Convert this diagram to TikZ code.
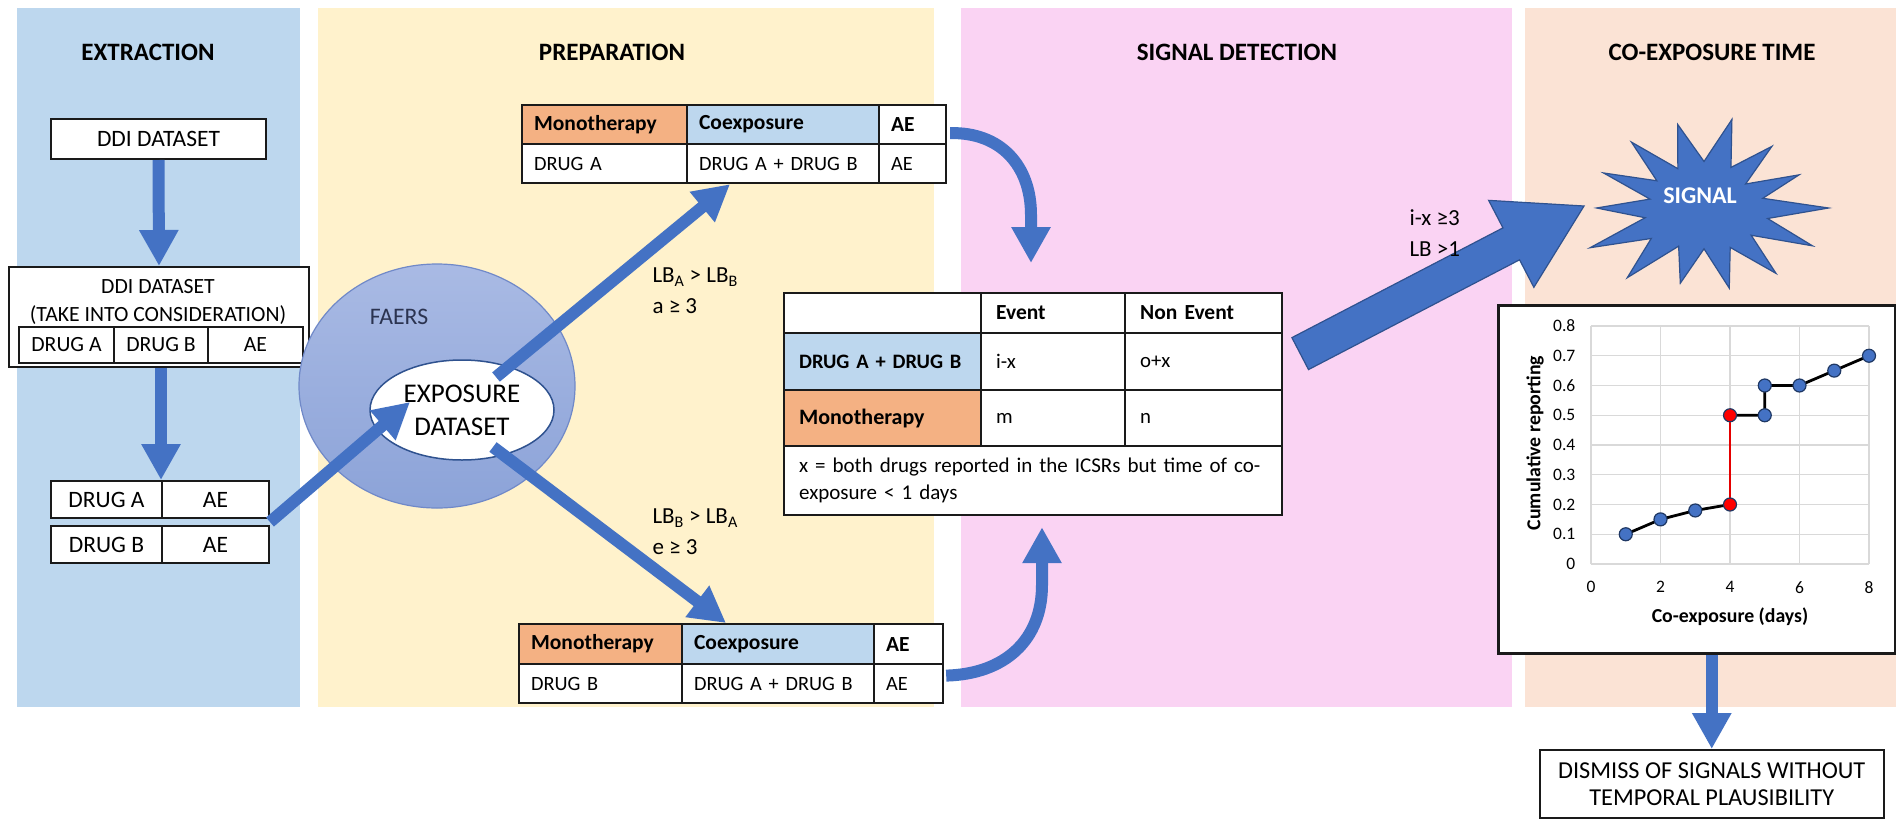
\documentclass[tikz,border=0pt]{standalone}
\usepackage{fontspec}
\setmainfont{Carlito}
\usetikzlibrary{arrows.meta,calc,shapes.geometric}
\definecolor{pblue}{HTML}{BDD7EE}
\definecolor{pyellow}{HTML}{FFF2CC}
\definecolor{ppink}{HTML}{FAD3F3}
\definecolor{ppeach}{HTML}{FBE3D5}
\definecolor{corange}{HTML}{F4B183}
\definecolor{cblue}{HTML}{BDD7EE}
\definecolor{ablue}{HTML}{4472C4}
\definecolor{aline}{HTML}{2F528F}
\definecolor{ftop}{HTML}{A9BAE4}
\definecolor{fbot}{HTML}{8CA3D8}
\definecolor{fedge}{HTML}{7089C8}
\definecolor{ftext}{HTML}{2B3350}
\definecolor{gridc}{HTML}{D9D9D9}
\definecolor{tline}{HTML}{1A1A1A}
\definecolor{mkedge}{HTML}{1F3864}
\newcommand\fsz[2]{\fontsize{#1}{#2}\selectfont}
\begin{document}
\begin{tikzpicture}[x=1pt,y=-1pt,
  ttl/.style={font=\fsz{25}{30}\bfseries},
  box/.style={draw=tline, line width=2pt, fill=white, inner sep=0, anchor=north west},
  cellL/.style={draw=tline, line width=2.2pt, inner ysep=0, inner xsep=12pt, anchor=north west, align=left, font=\fsz{20.3}{26}},
  cellC/.style={draw=tline, line width=2pt, inner sep=0, anchor=north west, align=center, font=\fsz{21.7}{26}},
  midL/.style={draw=tline, line width=2.2pt, inner ysep=0, inner xsep=15pt, anchor=north west, align=left, font=\fsz{20.8}{27}},
  hdB/.style={font=\fsz{21.5}{26}\bfseries},
  blk/.style={draw=ablue, line width=12pt, -{Triangle[length=36pt,width=37pt]}},
  lbl/.style={anchor=west, align=left, font=\fsz{23}{31}},
  gridline/.style={draw=gridc, line width=1.2pt},
  tick/.style={font=\fsz{17.5}{20}},
  dataline/.style={line width=2.8pt},
  mk/.style={draw=mkedge, line width=1.2pt, fill=ablue},
  mkr/.style={draw=mkedge, line width=1.2pt, fill=red}
]
\useasboundingbox[fill=white] (0,0) rectangle (1896,820);
% panels
\fill[pblue] (17,8) rectangle (300,707);
\fill[pyellow] (318,8) rectangle (934,707);
\fill[ppink] (961,8) rectangle (1512,707);
\fill[ppeach] (1525,8) rectangle (1896,707);
% titles
\node[ttl] (t1) at (148,52) {EXTRACTION};
\node[ttl] (t2) at (612,52) {PREPARATION};
\node[ttl] (t3) at (1237,52) {SIGNAL DETECTION};
\node[ttl] (t4) at (1712,52) {CO-EXPOSURE TIME};

% ---------- extraction ----------
\node[box, minimum width=215pt, minimum height=40pt, font=\fsz{23.5}{28}] (ddi) at (50,118) {DDI DATASET};
\node[box, minimum width=300pt, minimum height=100pt] (take) at (8,266) {};
\node[align=center, font=\fsz{21.7}{28}] (taket) at (158,302) {DDI DATASET\\(TAKE INTO CONSIDERATION)};
\node[cellC, minimum width=95pt, minimum height=36pt] (kA) at (18,326) {DRUG A};
\node[cellC, minimum width=94pt, minimum height=36pt] (kB) at (113,326) {DRUG B};
\node[cellC, minimum width=95pt, minimum height=36pt] (kE) at (207,326) {AE};
\node[cellC, fill=white, minimum width=111pt, minimum height=37pt, font=\fsz{23.5}{28}] (dA) at (50,480) {DRUG A};
\node[cellC, fill=white, minimum width=107pt, minimum height=37pt, font=\fsz{23.5}{28}] (dAE) at (161,480) {AE};
\node[cellC, fill=white, minimum width=111pt, minimum height=37pt, font=\fsz{23.5}{28}] (dB) at (50,525) {DRUG B};
\node[cellC, fill=white, minimum width=107pt, minimum height=37pt, font=\fsz{23.5}{28}] (dBE) at (161,525) {AE};
\draw[blk] (ddi.south) -- (take.north);
\draw[blk] (take.south -| dAE.north west) -- (dAE.north west);

% ---------- preparation ----------
\node[ellipse, minimum width=276pt, minimum height=244pt, top color=ftop, bottom color=fbot, draw=fedge, line width=1.2pt] (faers) at (437,386) {};
\node[font=\fsz{23.7}{28}, text=ftext] (faerst) at (399,317) {FAERS};
\node[ellipse, draw=aline, line width=1.5pt, fill=white, minimum width=184pt, minimum height=100pt, inner sep=0, align=center, font=\fsz{27}{33}] (exp) at (462,410) {EXPOSURE\\DATASET};
\draw[blk] ($(dAE.south east)!0.5!(dBE.north east)$) -- ($(exp.center)+(-52,-8)$);

% top table
\node[cellL, fill=corange, text width=141pt, minimum height=39pt, hdB] (tM) at (521,104) {Monotherapy};
\node[cellL, fill=cblue, text width=168pt, minimum height=39pt, hdB] (tC) at (686,104) {Coexposure};
\node[cellL, fill=white, text width=43pt, minimum height=39pt, hdB] (tE) at (878,104) {AE};
\node[cellL, fill=white, text width=141pt, minimum height=39pt] (tA) at (521,143) {DRUG A};
\node[cellL, fill=white, text width=168pt, minimum height=39pt] (tAB) at (686,143) {\mbox{DRUG A + DRUG B}};
\node[cellL, fill=white, text width=43pt, minimum height=39pt] (tE2) at (878,143) {AE};
% bottom table
\node[cellL, fill=corange, text width=139pt, minimum height=40pt, hdB] (bM) at (518,623) {Monotherapy};
\node[cellL, fill=cblue, text width=168pt, minimum height=40pt, hdB] (bC) at (681,623) {Coexposure};
\node[cellL, fill=white, text width=45pt, minimum height=40pt, hdB] (bE) at (873,623) {AE};
\node[cellL, fill=white, text width=139pt, minimum height=39pt] (bB) at (518,663) {DRUG B};
\node[cellL, fill=white, text width=168pt, minimum height=39pt] (bAB) at (681,663) {\mbox{DRUG A + DRUG B}};
\node[cellL, fill=white, text width=45pt, minimum height=39pt] (bE2) at (873,663) {AE};

\draw[blk] ($(exp.center)+(34,-33)$) -- ($(tAB.south west)+(44,0)$);
\draw[blk] ($(exp.center)+(31,37)$) -- ($(bC.north west)+(45,0)$);
\node[lbl] (l1) at (649,291) {LB\textsubscript{A} > LB\textsubscript{B}\\a ≥ 3};
\node[lbl] (l2) at (649,532) {LB\textsubscript{B} > LB\textsubscript{A}\\e ≥ 3};

% ---------- signal detection ----------
\node[midL, fill=white, text width=167pt, minimum height=40pt] (m00) at (783,292) {};
\node[midL, fill=white, text width=114pt, minimum height=40pt, font=\fsz{21.5}{27}\bfseries] (m01) at (980,292) {Event};
\node[midL, fill=white, text width=127pt, minimum height=40pt, font=\fsz{21.5}{27}\bfseries] (m02) at (1124,292) {Non Event};
\node[midL, fill=cblue, text width=167pt, minimum height=57pt, font=\fsz{20.5}{27}\bfseries] (m10) at (783,332) {\mbox{DRUG A + DRUG B}};
\node[midL, fill=white, text width=114pt, minimum height=57pt] (m11) at (980,332) {i-x};
\node[midL, fill=white, text width=127pt, minimum height=57pt] (m12) at (1124,332) {o+x};
\node[midL, fill=corange, text width=167pt, minimum height=56pt, font=\fsz{22}{27}\bfseries] (m20) at (783,389) {Monotherapy};
\node[midL, fill=white, text width=114pt, minimum height=56pt] (m21) at (980,389) {m};
\node[midL, fill=white, text width=127pt, minimum height=56pt] (m22) at (1124,389) {n};
\node[midL, fill=white, text width=468pt, minimum height=69pt, font=\fsz{21}{27}] (m3) at (783,445) {\mbox{x = both drugs reported in the ICSRs but time of co-}\\exposure < 1 days};

\draw[blk] ($(tE.east)+(3,8.5)$) .. controls (1000,132) and (1031,165) .. (1031,215) -- ($(m01.north west)+(51,-29)$);
\draw[blk] ($(bE2.east)+(2,-8)$) .. controls (1005,674) and (1042,640) .. (1042,585) -- ($(m3.south west)+(259,11)$);

% big arrow
\coordinate (bigT) at ($(m12.east)+(17,-8)$);
\coordinate (bigP) at (1584,206);
\coordinate (bigH) at ($(bigP)!82pt!(bigT)$);
\filldraw[fill=ablue, draw=aline, line width=1.2pt]
  ($(bigT)!18pt!90:(bigP)$) -- ($(bigH)!18pt!-90:(bigT)$) -- ($(bigH)!49pt!-90:(bigT)$) -- (bigP)
  -- ($(bigH)!49pt!90:(bigT)$) -- ($(bigH)!18pt!90:(bigT)$) -- ($(bigT)!18pt!-90:(bigP)$) -- cycle;
\node[lbl] (l3) at (1406,233) {i-x ≥3\\LB >1};

% ---------- co-exposure time ----------
\filldraw[fill=ablue, draw=aline, line width=1.2pt, shift={(1704,208)}]
  plot[samples at={0,12.857,...,348}] ({cos(\x)*(0.76+0.24*cos(14*\x))*(1+0.07*sin(3*\x+20)+0.05*cos(5*\x))*116},
                                       {sin(\x)*(0.76+0.24*cos(14*\x))*(1+0.07*sin(3*\x+20)+0.05*cos(5*\x))*84}) -- cycle;
\node[font=\fsz{24}{28}\bfseries, text=white] (signal) at (1700,196) {SIGNAL};

\node[box, line width=2.5pt, minimum width=397pt, minimum height=348pt] (chart) at (1497,304) {};
\begin{scope}[shift={(1591,564)}, x=34.75pt, y=297.5pt]
  \foreach \v in {0,2,...,8} \draw[gridline] (\v,0) -- (\v,0.8);
  \foreach \v in {0,...,8} \draw[gridline] (0,{\v/10}) -- (8,{\v/10});
  \foreach \v/\t in {0/0,1/0.1,2/0.2,3/0.3,4/0.4,5/0.5,6/0.6,7/0.7,8/0.8}
    \node[tick, anchor=east] (yt\v) at (-0.35,{\v/10}) {\t};
  \foreach \v in {0,2,...,8}
    \node[tick] (xt\v) at (\v,-0.078) {\v};
  \draw[dataline] (1,0.1) -- (2,0.15) -- (3,0.18) -- (4,0.2);
  \draw[dataline, draw=red!90!black] (4,0.2) -- (4,0.5);
  \draw[dataline] (4,0.5) -- (5,0.5) -- (5,0.6) -- (6,0.6) -- (7,0.65) -- (8,0.7);
  \foreach \p in {(1,0.1),(2,0.15),(3,0.18),(5,0.5),(5,0.6),(6,0.6),(7,0.65),(8,0.7)}
    \draw[mk] \p circle[radius=6.5pt];
  \draw[mkr] (4,0.2) circle[radius=6.5pt];
  \draw[mkr] (4,0.5) circle[radius=6.5pt];
\end{scope}
\node[font=\fsz{19.8}{24}\bfseries] (xlab) at (1730,617) {Co-exposure (days)};
\node[font=\fsz{19.8}{24}\bfseries, rotate=90] (ylab) at (1535,443) {Cumulative reporting};

\node[box, line width=1.5pt, minimum width=344pt, minimum height=68pt, align=center, font=\fsz{24.3}{27}] (dis) at (1539,749) {DISMISS OF SIGNALS WITHOUT\\TEMPORAL PLAUSIBILITY};
\draw[blk] (dis.north |- chart.south) -- (dis.north);
\end{tikzpicture}
\end{document}
